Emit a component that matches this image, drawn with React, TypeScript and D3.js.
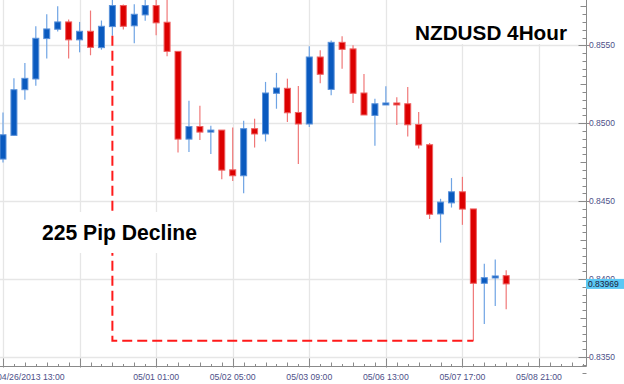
import React from "react";
import * as d3 from "d3";

// NZDUSD 4-hour candles (index 0 = 04/26/2013 13:00)
const opens = [
  0.8477, 0.84922, 0.85215, 0.85284, 0.85543, 0.85603, 0.8565, 0.85535, 0.8559, 0.85485,
  0.8562, 0.85755, 0.85625, 0.85695, 0.85755, 0.85648, 0.85461, 0.84898, 0.84979, 0.84943,
  0.84956, 0.84701, 0.84663, 0.84965, 0.84931, 0.85192, 0.85224, 0.85069, 0.84995, 0.85425,
  0.85217, 0.85519, 0.85477, 0.85194, 0.8505, 0.85123, 0.8513, 0.85125, 0.84992, 0.84862,
  0.84418, 0.84489, 0.8456, 0.8445, 0.83973, 0.84007, 0.84022,
];
const highs = [
  0.85069, 0.85288, 0.85387, 0.85622, 0.85699, 0.85751, 0.85665, 0.8565, 0.85723, 0.85659,
  0.85807, 0.85762, 0.85764, 0.85807, 0.85807, 0.85807, 0.85461, 0.85145, 0.85112, 0.84984,
  0.84956, 0.84973, 0.85016, 0.85029, 0.85265, 0.85323, 0.85286, 0.85239, 0.85494, 0.85468,
  0.8553, 0.85558, 0.855, 0.85316, 0.85157, 0.85237, 0.85166, 0.85233, 0.85072, 0.84873,
  0.84515, 0.84648, 0.84656, 0.8445, 0.84099, 0.84125, 0.84057,
];
const lows = [
  0.84748, 0.8492, 0.85151, 0.85241, 0.85416, 0.85588, 0.85416, 0.85455, 0.85436, 0.85472,
  0.85562, 0.85601, 0.85513, 0.85657, 0.85564, 0.85429, 0.84812, 0.84815, 0.84892, 0.84802,
  0.84641, 0.8463, 0.84551, 0.84844, 0.84883, 0.85093, 0.85008, 0.84738, 0.84976, 0.85256,
  0.85179, 0.8535, 0.8513, 0.85053, 0.84855, 0.85123, 0.84988, 0.84915, 0.84838, 0.84386,
  0.84234, 0.84459, 0.84348, 0.83604, 0.83711, 0.83827, 0.83806,
];
const closes = [
  0.84926, 0.85215, 0.85288, 0.85545, 0.85605, 0.8565, 0.85535, 0.8559, 0.85487, 0.85622,
  0.85755, 0.85622, 0.85699, 0.85755, 0.85644, 0.85461, 0.84898, 0.84979, 0.84943, 0.84956,
  0.84699, 0.84663, 0.84965, 0.84931, 0.85194, 0.85226, 0.85067, 0.84995, 0.85425, 0.85314,
  0.85519, 0.85474, 0.85192, 0.85053, 0.85125, 0.8513, 0.85123, 0.8499, 0.8486, 0.84416,
  0.84494, 0.8456, 0.84449, 0.83973, 0.84009, 0.8402, 0.83969,
];

const xTickIndex = [0, 7, 14, 21, 28, 35, 42, 49];
const xTickLabels = ["04/26/2013 13:00", "", "05/01 01:00", "05/02 05:00", "05/03 09:00", "05/06 13:00", "05/07 17:00", "05/08 21:00"];
const yTicks = [0.835, 0.84, 0.845, 0.85, 0.855];
const yTickLabels = ["0.8350", "0.8400", "0.8450", "0.8500", "0.8550"];

const title = "NZDUSD 4Hour";
const annotation = "225 Pip Decline";
const declineFrom = 10;
const declineTo = 43;
const lastPrice = "0.83969";

export default function App() {
  const W = 624;
  const H = 384;
  const axisX = 586.5;
  const axisY = 366.5;
  const x = d3.scaleLinear().domain([0, 49]).range([3, 539]);
  const y = d3.scaleLinear().domain([0.835, 0.855]).range([357, 45.3]);

  const labelColor = "#4d5088";
  const gridColor = "#e6e6e6";
  const font = "'Liberation Sans', Arial, sans-serif";

  const minorY = d3.range(0.834, 0.8601, 0.0005);
  const minorX = d3.range(0, 54);

  const candles = opens.map((o, i) => ({ i, o, h: highs[i], l: lows[i], c: closes[i] }));

  const yTop = y(lows[declineFrom]);
  const yBot = y(lows[declineTo]);
  const lastY = y(closes[closes.length - 1]);

  return (
    <svg
      width={W}
      height={H}
      style={{ position: "fixed", left: 0, top: 0, background: "#fff" }}
      fontFamily={font}
    >
      <rect x={0} y={0} width={W} height={H} fill="#fff" />
      {/* grid */}
      {yTicks.map((t) => (
        <line key={"gy" + t} x1={0} x2={axisX} y1={Math.round(y(t)) + 0.5} y2={Math.round(y(t)) + 0.5} stroke={gridColor} strokeWidth={1.3} />
      ))}
      {xTickIndex.map((t) => (
        <line key={"gx" + t} x1={Math.round(x(t)) + 0.5} x2={Math.round(x(t)) + 0.5} y1={0} y2={axisY} stroke={gridColor} strokeWidth={1.3} />
      ))}

      {/* candles */}
      {candles.map((d) => {
        const up = d.c >= d.o;
        const cx = x(d.i);
        const top = y(Math.max(d.o, d.c));
        const bot = y(Math.min(d.o, d.c));
        const hgt = Math.max(2, bot - top);
        return (
          <g key={d.i}>
            <line x1={cx} x2={cx} y1={y(d.h)} y2={y(d.l)} stroke={up ? "#6fa4e4" : "#f07878"} strokeWidth={1.2} />
            <rect
              x={cx - 3}
              y={top}
              width={6}
              height={hgt}
              fill={up ? "#0a5abf" : "#dc0000"}
              stroke={up ? "#5b92da" : "#ee6060"}
              strokeWidth={1}
            />
          </g>
        );
      })}

      {/* decline marker */}
      <path
        d={`M${x(declineFrom)},${yTop} V${yBot} H${x(declineTo)}`}
        fill="none"
        stroke="#ff1a1a"
        strokeWidth={2}
        strokeDasharray="10,5"
      />

      {/* label boxes */}
      <rect x={18} y={212} width={186} height={41} fill="#fff" />
      <text x={42} y={239.5} fontSize={22} fontWeight="bold" fill="#000" textLength={155} lengthAdjust="spacingAndGlyphs">
        {annotation}
      </text>
      <rect x={402} y={0} width={180} height={44} fill="#fff" />
      <text x={415} y={40} fontSize={21} fontWeight="bold" fill="#000" textLength={152} lengthAdjust="spacingAndGlyphs">
        {title}
      </text>

      {/* right axis */}
      <line x1={axisX} x2={axisX} y1={0} y2={axisY} stroke="#8a8a8a" strokeWidth={1} />
      {minorY.map((t, k) => {
        const yy = Math.round(y(t)) + 0.5;
        const isMid = Math.abs(((t * 10000) % 25)) < 0.01 || Math.abs(((t * 10000) % 25) - 25) < 0.01;
        return <line key={"my" + k} x1={axisX - (isMid ? 6 : 4)} x2={axisX} y1={yy} y2={yy} stroke="#8a8a8a" strokeWidth={1} />;
      })}
      {yTicks.map((t, k) => (
        <g key={"ty" + t}>
          <line x1={axisX - 8} x2={axisX + 3} y1={Math.round(y(t)) + 0.5} y2={Math.round(y(t)) + 0.5} stroke="#8a8a8a" strokeWidth={1} />
          <text x={589} y={y(t) + 3} fontSize={8.5} fill={labelColor}>
            {yTickLabels[k]}
          </text>
        </g>
      ))}
      {/* last price tag */}
      <rect x={586} y={lastY - 5} width={38} height={10} fill="#5cc8f4" />
      <text x={588} y={lastY + 3.2} fontSize={8.5} fill="#1a1a3a">
        {lastPrice}
      </text>

      {/* bottom axis */}
      <line x1={0} x2={axisX} y1={axisY} y2={axisY} stroke="#8a8a8a" strokeWidth={1} />
      {minorX.map((i) => {
        const xx = Math.round(x(i)) + 0.5;
        const major = i % 7 === 0;
        const len = major ? 8 : i % 2 === 0 ? 4 : 2.5;
        return <line key={"mx" + i} x1={xx} x2={xx} y1={axisY - len} y2={axisY + (major ? 1 : 0)} stroke="#8a8a8a" strokeWidth={1} />;
      })}
      {xTickIndex.map((t, k) =>
        xTickLabels[k] ? (
          <text
            key={"tx" + t}
            x={k === 0 ? -3 : x(t)}
            y={380}
            fontSize={8.7}
            fill={labelColor}
            textAnchor={k === 0 ? "start" : "middle"}
          >
            {xTickLabels[k]}
          </text>
        ) : null
      )}
    </svg>
  );
}
